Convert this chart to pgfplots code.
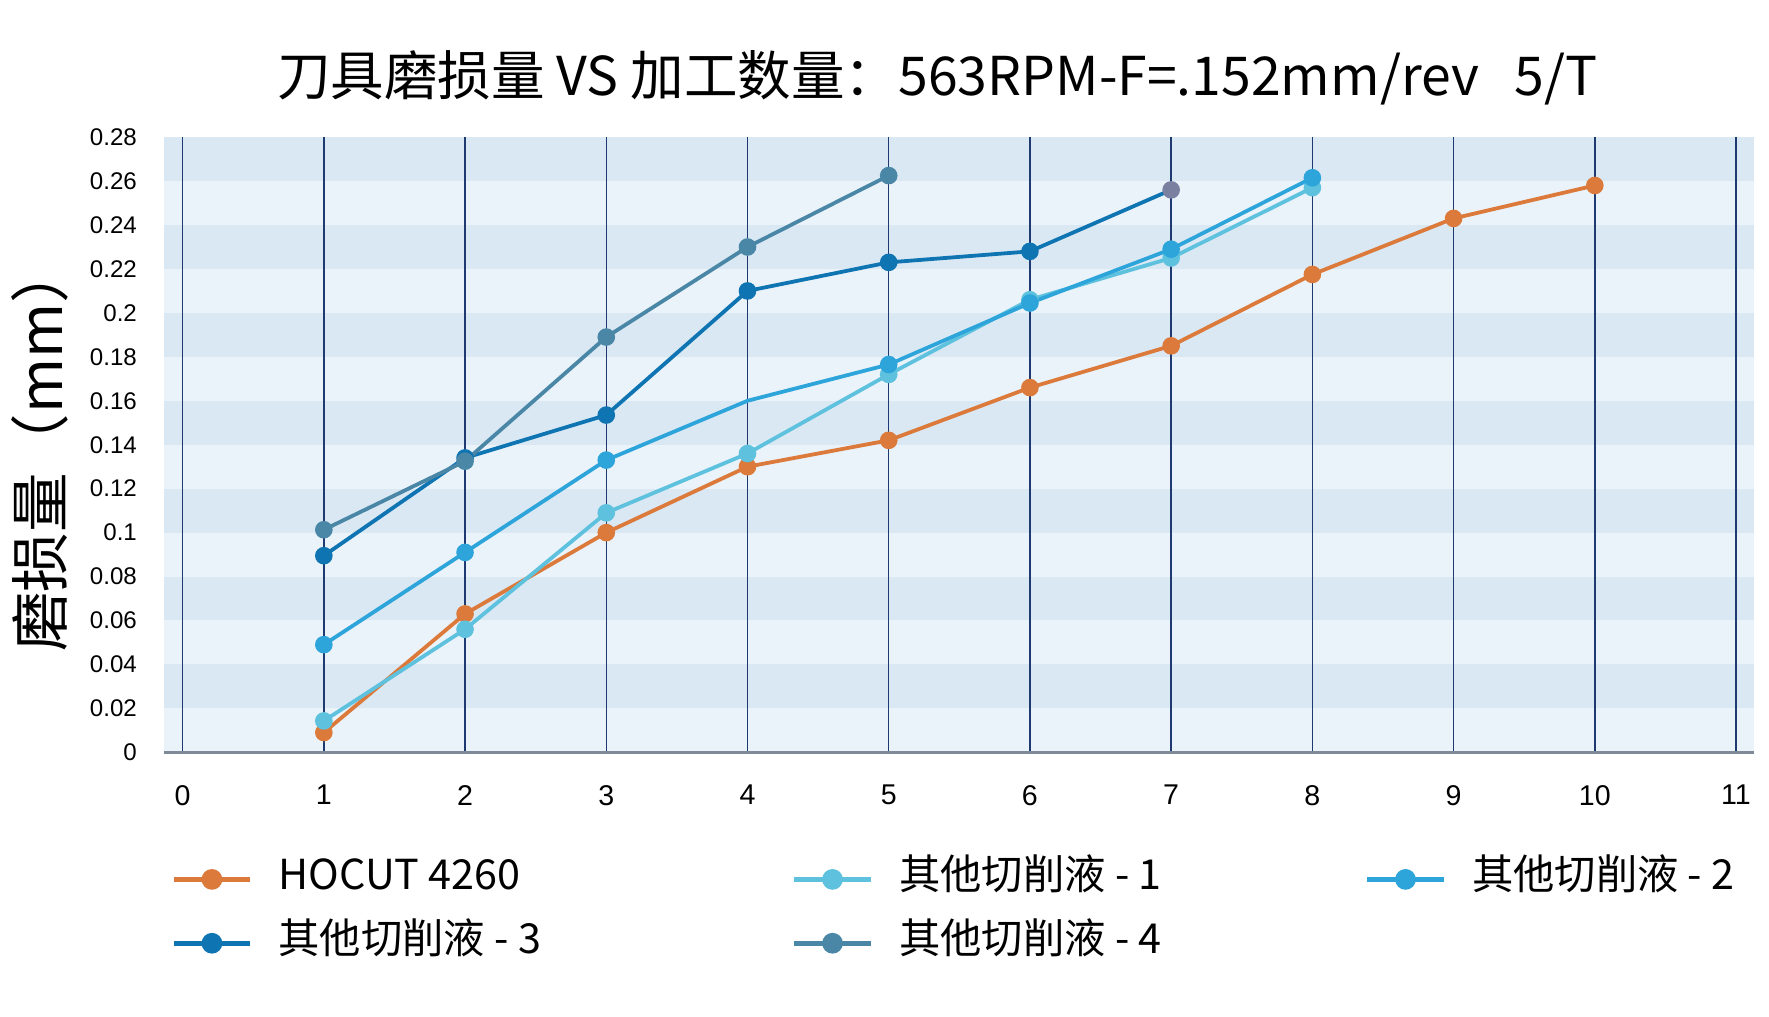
\documentclass[border=0pt]{standalone}
\usepackage{pgfplots}
\pgfplotsset{compat=1.18}
\usepackage{fontspec}
\setmainfont{Liberation Sans}
\newfontfamily\cjk{Noto Sans CJK SC}
\usetikzlibrary{calc}

\definecolor{hocut}{HTML}{DB7A3A}
\definecolor{sone}{HTML}{5EC1DE}
\definecolor{stwo}{HTML}{2EA5DA}
\definecolor{sthree}{HTML}{0E74B2}
\definecolor{sfour}{HTML}{4A87A6}
\definecolor{endmark}{HTML}{7A80A0}
\definecolor{gridnavy}{HTML}{1E3A70}
\definecolor{stripedark}{HTML}{DAE8F4}
\definecolor{stripelight}{HTML}{EBF3FA}
\definecolor{axisgray}{HTML}{7F8A99}

\begin{document}
\begin{tikzpicture}
\begin{axis}[
  name=ax,
  set layers=standard,
  scale only axis,
  width=16.24cm, height=6.28cm,
  xmin=-0.135, xmax=11.13,
  ymin=0, ymax=0.28,
  xtick={0,1,2,3,4,5,6,7,8,9,10,11},
  ytick={0,0.02,0.04,0.06,0.08,0.1,0.12,0.14,0.16,0.18,0.2,0.22,0.24,0.26,0.28},
  scaled y ticks=false,
  yticklabel={\pgfmathprintnumber[fixed,precision=2]{\tick}},
  /pgf/number format/assume math mode=true,
  axis x line*=bottom, axis y line*=left,
  x axis line style={-, draw=axisgray, line width=0.8pt},
  y axis line style={draw=none},
  major tick length=0pt,
  xmajorgrids,
  x grid style={color=gridnavy, line width=0.4pt},
  axis background/.style={fill=stripelight},
  yticklabel style={font=\fontsize{7}{8}\selectfont, inner sep=0pt, xshift=-0.265cm},
  xticklabel style={font=\fontsize{8.3}{9}\selectfont, inner sep=0pt, yshift=-0.33cm},
  every axis plot/.append style={line width=1.1pt, mark=*, mark size=2pt},
  legend columns=3,
  legend cell align=left,
  legend style={at={(axis description cs:0.0049,-0.173)}, anchor=north west,
    draw=none, fill=none, inner sep=0pt, outer sep=0pt,
    font=\cjk\fontsize{12}{14}\selectfont,
    nodes={inner xsep=0pt, inner ysep=0pt, text height=9pt, text depth=3pt},
    row sep=0.23cm,
    /tikz/every odd column/.append style={column sep=0.266cm},
    /tikz/every even column/.append style={column sep=0pt}},
  legend image code/.code={\draw[line width=1.4pt, mark repeat=2, mark phase=2, mark size=2.3pt]
    plot coordinates {(0cm,0cm) (0.39cm,0cm) (0.78cm,0cm)};},
  legend image post style={mark indices={2}},
]
\begin{pgfonlayer}{axis background}
  \fill[stripedark] (axis cs:-0.135,0.02) rectangle (axis cs:11.13,0.04);
  \fill[stripedark] (axis cs:-0.135,0.06) rectangle (axis cs:11.13,0.08);
  \fill[stripedark] (axis cs:-0.135,0.10) rectangle (axis cs:11.13,0.12);
  \fill[stripedark] (axis cs:-0.135,0.14) rectangle (axis cs:11.13,0.16);
  \fill[stripedark] (axis cs:-0.135,0.18) rectangle (axis cs:11.13,0.20);
  \fill[stripedark] (axis cs:-0.135,0.22) rectangle (axis cs:11.13,0.24);
  \fill[stripedark] (axis cs:-0.135,0.26) rectangle (axis cs:11.13,0.28);
\end{pgfonlayer}

\addplot[color=hocut, mark options={fill=hocut}] coordinates {
  (1,0.009)(2,0.063)(3,0.100)(4,0.130)(5,0.142)(6,0.166)(7,0.185)(8,0.2175)(9,0.243)(10,0.258)};
\addlegendentry{\makebox[5.24cm][l]{HOCUT 4260}}

\addplot[color=sone, mark options={fill=sone}] coordinates {
  (1,0.0143)(2,0.056)(3,0.109)(4,0.136)(5,0.172)(6,0.206)(7,0.225)(8,0.257)};
\addlegendentry{\makebox[4.754cm][l]{其他切削液 - 1}}

\addplot[color=stwo, mark options={fill=stwo}, mark indices={1,2,3,5,6,7,8}] coordinates {
  (1,0.049)(2,0.091)(3,0.133)(4,0.160)(5,0.1765)(6,0.2045)(7,0.229)(8,0.2615)};
\addlegendentry{其他切削液 - 2}

\addplot[color=sthree, mark options={fill=sthree}, mark indices={1,2,3,4,5,6}] coordinates {
  (1,0.0895)(2,0.134)(3,0.1535)(4,0.210)(5,0.223)(6,0.228)(7,0.256)};
\addlegendentry{\makebox[5.24cm][l]{其他切削液 - 3}}

\addplot[color=sfour, mark options={fill=sfour}] coordinates {
  (1,0.1013)(2,0.1325)(3,0.189)(4,0.230)(5,0.2625)};
\addlegendentry{\makebox[4.754cm][l]{其他切削液 - 4}}

\addplot[only marks, color=endmark, mark options={fill=endmark}, forget plot] coordinates {(7,0.256)};
\end{axis}

\node[font=\cjk\fontsize{15.55}{18}\selectfont, anchor=base]
  at ($(ax.north west)+(7.90cm,0.425cm)$) {刀具磨损量 VS 加工数量：563RPM-F=.152mm/rev\ \ \ 5/T};
\node[font=\cjk\fontsize{17.3}{19}\selectfont, rotate=90, anchor=center]
  at ($(ax.west)+(-1.263cm,-0.03cm)$) {磨损量（mm）};

\path ($(ax.south west)+(-1.607cm,-2.698cm)$) ($(ax.north east)+(0.149cm,1.40cm)$);
\end{tikzpicture}
\end{document}
